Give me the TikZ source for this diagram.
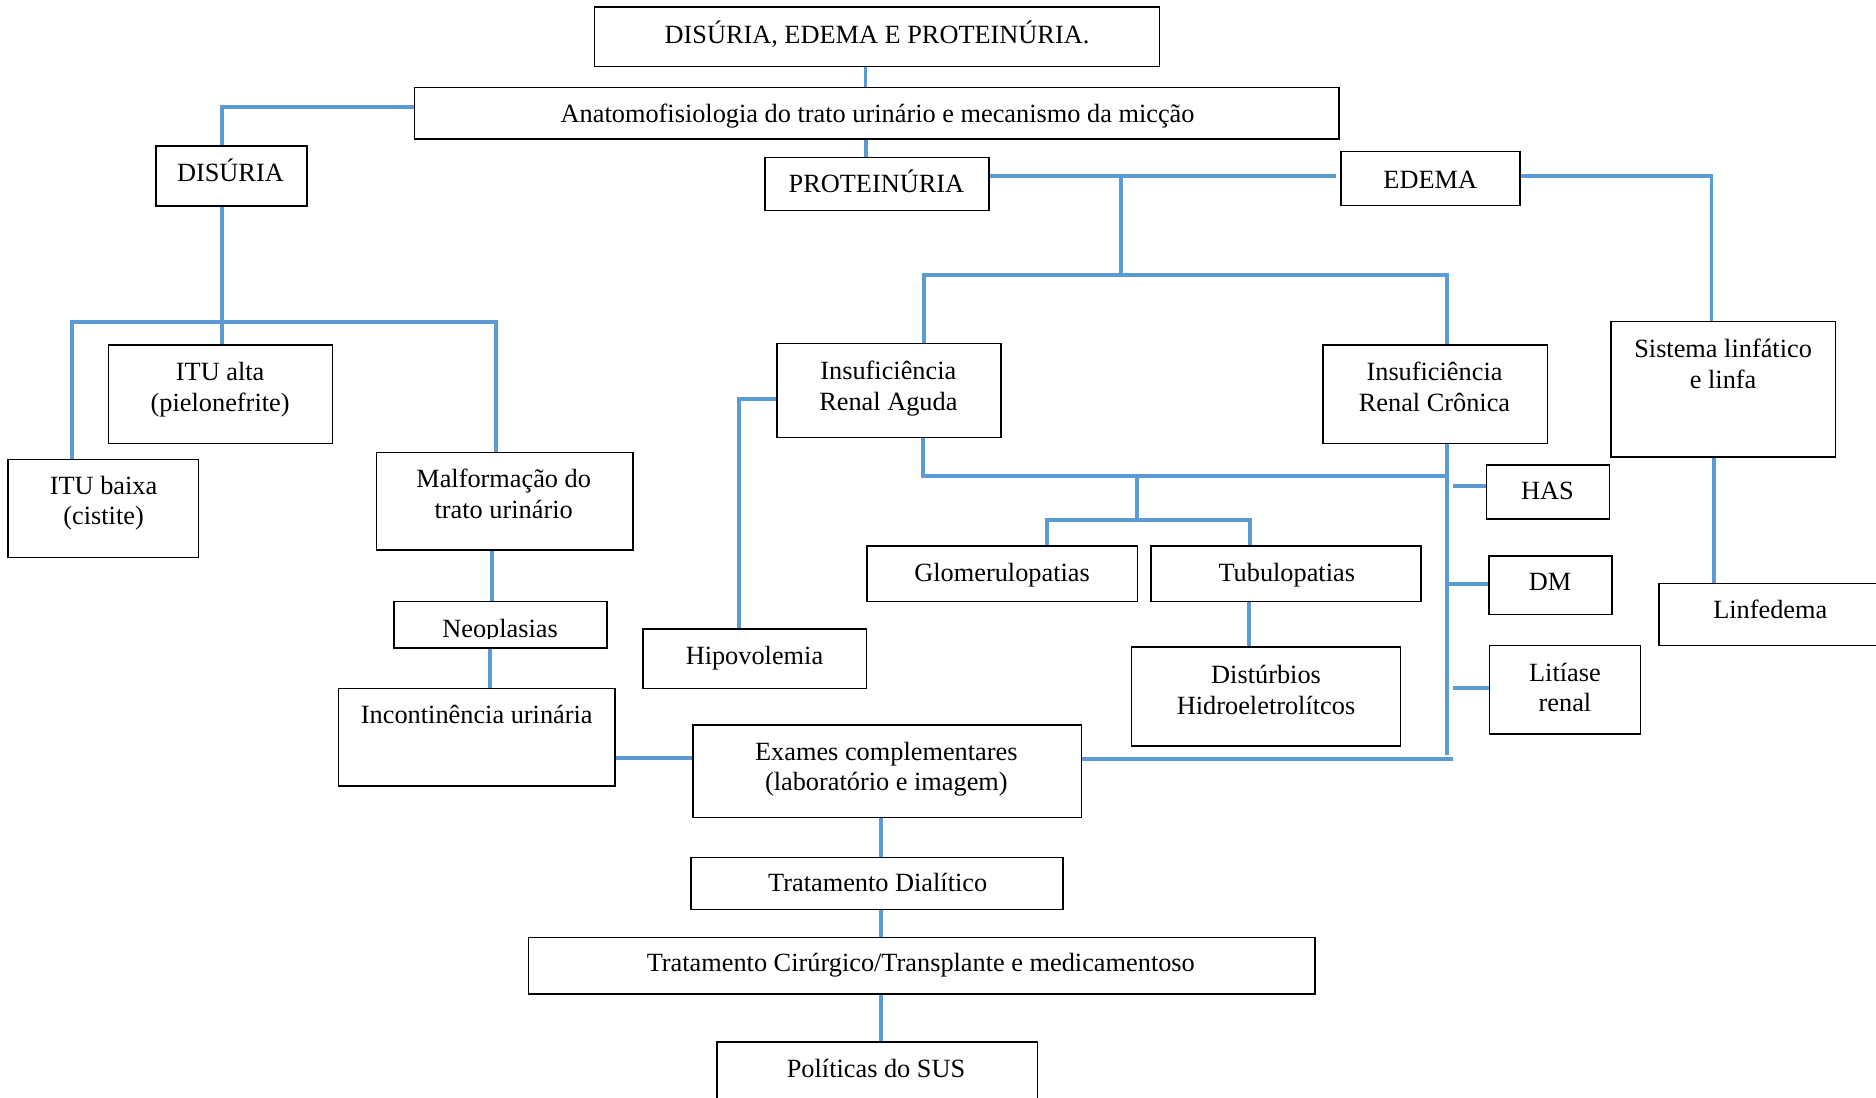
\documentclass[tikz,border=0pt]{standalone}
\usepackage{fontspec}
\setmainfont{Liberation Serif}
\usetikzlibrary{fit,backgrounds}
\definecolor{linkblue}{RGB}{91,155,213}
% invisible strut fixing the height of the first text line
\newcommand\fl{\rule{0pt}{18pt}}

\begin{document}
\begin{tikzpicture}[x=1pt,y=-1pt,
  box/.style={draw=black, line width=1.3pt, inner sep=0pt, rectangle},
  txt/.style={anchor=north, inner sep=0pt, align=center, font=\fontsize{22}{25.6}\selectfont},
  conn/.style={draw=linkblue, line width=3.3pt}]
\useasboundingbox (0,0) rectangle (1568,917);

% ---------- boxes ----------
\node[box, fit={(497,6) (969.3,55.7)}] (top) {};
\node[box, fit={(346.6,73) (1119.3,116)}] (anat) {};
\node[box, fit={(130.5,122) (256.6,172)}] (disuria) {};
\node[box, fit={(639.4,131.5) (826.6,176.1)}] (prot) {};
\node[box, fit={(1120.9,126.8) (1270.4,171.9)}] (edema) {};
\node[box, fit={(90.7,288.4) (278,370.5)}] (itualta) {};
\node[box, fit={(6.7,383.9) (166,465.8)}] (itubaixa) {};
\node[box, fit={(314.5,378.1) (529.1,459.7)}] (malf) {};
\node[box, fit={(329.5,502.9) (507.5,541.4)}] (neo) {};
\node[box, fit={(282.8,575.3) (514.2,657)}] (inc) {};
\node[box, fit={(649.2,287) (836.7,365.8)}] (ira) {};
\node[box, fit={(1105.6,288.4) (1293.4,370.5)}] (irc) {};
\node[box, fit={(1346.7,268.9) (1534.3,382)}] (sist) {};
\node[box, fit={(1242.6,388.7) (1345.2,433.8)}] (has) {};
\node[box, fit={(1244.3,464.5) (1347.1,513.5)}] (dm) {};
\node[box, fit={(1245.1,539.7) (1371,613.5)}] (lit) {};
\node[box, fit={(1386.7,487.6) (1600,539.7)}] (linf) {};
\node[box, fit={(724.8,456.4) (950.8,502.9)}] (glom) {};
\node[box, fit={(962.2,456.4) (1187.8,502.9)}] (tub) {};
\node[box, fit={(945.9,541) (1170.6,623.3)}] (dist) {};
\node[box, fit={(537.3,525.8) (724.4,575.3)}] (hipo) {};
\node[box, fit={(579,606) (904,683.2)}] (exam) {};
\node[box, fit={(577.7,716.6) (888.6,760)}] (dial) {};
\node[box, fit={(441.9,783.4) (1099.2,830.8)}] (cir) {};
\node[box, fit={(599.2,870.7) (867,940)}] (pol) {};

% ---------- texts ----------
\node[txt] (top-t) at (733,17) {\fl DISÚRIA, EDEMA E PROTEINÚRIA.};
\node[txt] (anat-t) at (733.5,84) {\fl Anatomofisiologia do trato urinário e mecanismo da micção};
\node[txt] (disuria-t) at (192.6,133) {\fl DISÚRIA};
\node[txt] (prot-t) at (732.5,142) {\fl PROTEINÚRIA};
\node[txt] (edema-t) at (1195.4,139) {\fl EDEMA};
\node[txt] (itualta-t) at (184,300) {\fl ITU alta\\(pielonefrite)};
\node[txt] (itubaixa-t) at (86.6,395) {\fl ITU baixa\\(cistite)};
\node[txt] (malf-t) at (421,389.4) {\fl Malformação do\\trato urinário};
\begin{scope}
  \clip (329.5,502.9) rectangle (507.5,533.8);
  \node[txt] (neo-t) at (418,514.4) {\fl Neoplasias};
\end{scope}
\node[txt] (inc-t) at (398.5,586.6) {\fl Incontinência urinária};
\node[txt] (ira-t) at (742.5,299) {\fl Insuficiência\\Renal Aguda};
\node[txt] (irc-t) at (1199,300) {\fl Insuficiência\\Renal Crônica};
\node[txt] (sist-t) at (1440.2,281) {\fl Sistema linfático\\e linfa};
\node[txt] (has-t) at (1293.3,399.4) {\fl HAS};
\node[txt] (dm-t) at (1295.5,475.7) {\fl DM};
\node[txt] (lit-t) at (1308,551.3) {\fl Litíase\\renal};
\node[txt] (linf-t) at (1479.6,499) {\fl Linfedema};
\node[txt] (glom-t) at (837.6,468.2) {\fl Glomerulopatias};
\node[txt] (tub-t) at (1075.5,468.2) {\fl Tubulopatias};
\node[txt] (dist-t) at (1058.2,553.2) {\fl Distúrbios\\Hidroeletrolítcos};
\node[txt] (hipo-t) at (630.6,537.3) {\fl Hipovolemia};
\node[txt] (exam-t) at (740.8,617.3) {\fl Exames complementares\\(laboratório e imagem)};
\node[txt] (dial-t) at (733.6,727.3) {\fl Tratamento Dialítico};
\node[txt] (cir-t) at (769.6,794.2) {\fl Tratamento Cirúrgico/Transplante e medicamentoso};
\node[txt] (pol-t) at (732.2,882) {\fl Políticas do SUS};

% ---------- junction points ----------
\coordinate (jdl) at (60.1,268.9);
\coordinate (jdr) at (414.6,268.9);
\coordinate (jprot) at (937.3,147.1);
\coordinate (jprotb) at (937.3,229.7);
\coordinate (jpl) at (772.2,229.7);
\coordinate (jpr) at (1209.5,229.7);
\coordinate (jira) at (950,397.5);
\coordinate (jiraend) at (1209.5,397.5);
\coordinate (jgt) at (950,434.7);
\coordinate (jgl) at (875.2,434.7);
\coordinate (jgr) at (1045.1,434.7);
\coordinate (jircend) at (1209.5,631);
\coordinate (jexend) at (1214.2,634.7);
\coordinate (jhas) at (1214.6,406);
\coordinate (jdm) at (1209.5,488.5);
\coordinate (jlit) at (1214.6,575.3);

% ---------- connectors ----------
\begin{scope}[on background layer]
  \draw[conn] (top.south -| 723.4,0) -- (anat.north -| 723.4,0);
  \draw[conn] (anat.south -| 724.2,0) -- (prot.north -| 724.2,0);
  \draw[conn] (anat.west |- 0,89.7) -| (disuria.north -| 185.8,0);
  \draw[conn] (disuria.south -| 185.8,0) -- (itualta.north -| 185.8,0);
  \draw[conn] (itubaixa.north -| jdl) -- (jdl) -- (jdr) -- (malf.north -| jdr);
  \draw[conn] (malf.south -| 411.4,0) -- (neo.north -| 411.4,0);
  \draw[conn] (neo.south -| 409.7,0) -- (inc.north -| 409.7,0);
  \draw[conn] (inc.east |- 0,633.8) -- (exam.west |- 0,633.8);

  \draw[conn, shorten >=3.5pt] (prot.east |- jprot) -- (edema.west |- jprot);
  \draw[conn] (jprot) -- (jprotb);
  \draw[conn] (ira.north -| jpl) -- (jpl) -- (jpr) -- (irc.north -| jpr);
  \draw[conn] (edema.east |- jprot) -| (sist.north -| 1430.5,0);
  \draw[conn] (sist.south -| 1432.6,0) -- (linf.north -| 1432.6,0);

  \draw[conn] (ira.west |- 0,333.5) -| (hipo.north -| 617.9,0);
  \draw[conn] (ira.south -| 771.5,0) |- (jiraend);
  \draw[conn] (jira) -- (jgt);
  \draw[conn] (glom.north -| jgl) -- (jgl) -- (jgr) -- (tub.north -| jgr);
  \draw[conn] (tub.south -| 1043.7,0) -- (dist.north -| 1043.7,0);

  \draw[conn] (irc.south -| jircend) -- (jircend);
  \draw[conn] (exam.east |- jexend) -- (jexend);
  \draw[conn] (jhas) -- (has.west |- jhas);
  \draw[conn] (jdm) -- (dm.west |- jdm);
  \draw[conn] (jlit) -- (lit.west |- jlit);

  \draw[conn] (exam.south -| 736,0) -- (dial.north -| 736,0);
  \draw[conn] (dial.south -| 736,0) -- (cir.north -| 736,0);
  \draw[conn] (cir.south -| 736,0) -- (pol.north -| 736,0);
\end{scope}
\end{tikzpicture}
\end{document}
